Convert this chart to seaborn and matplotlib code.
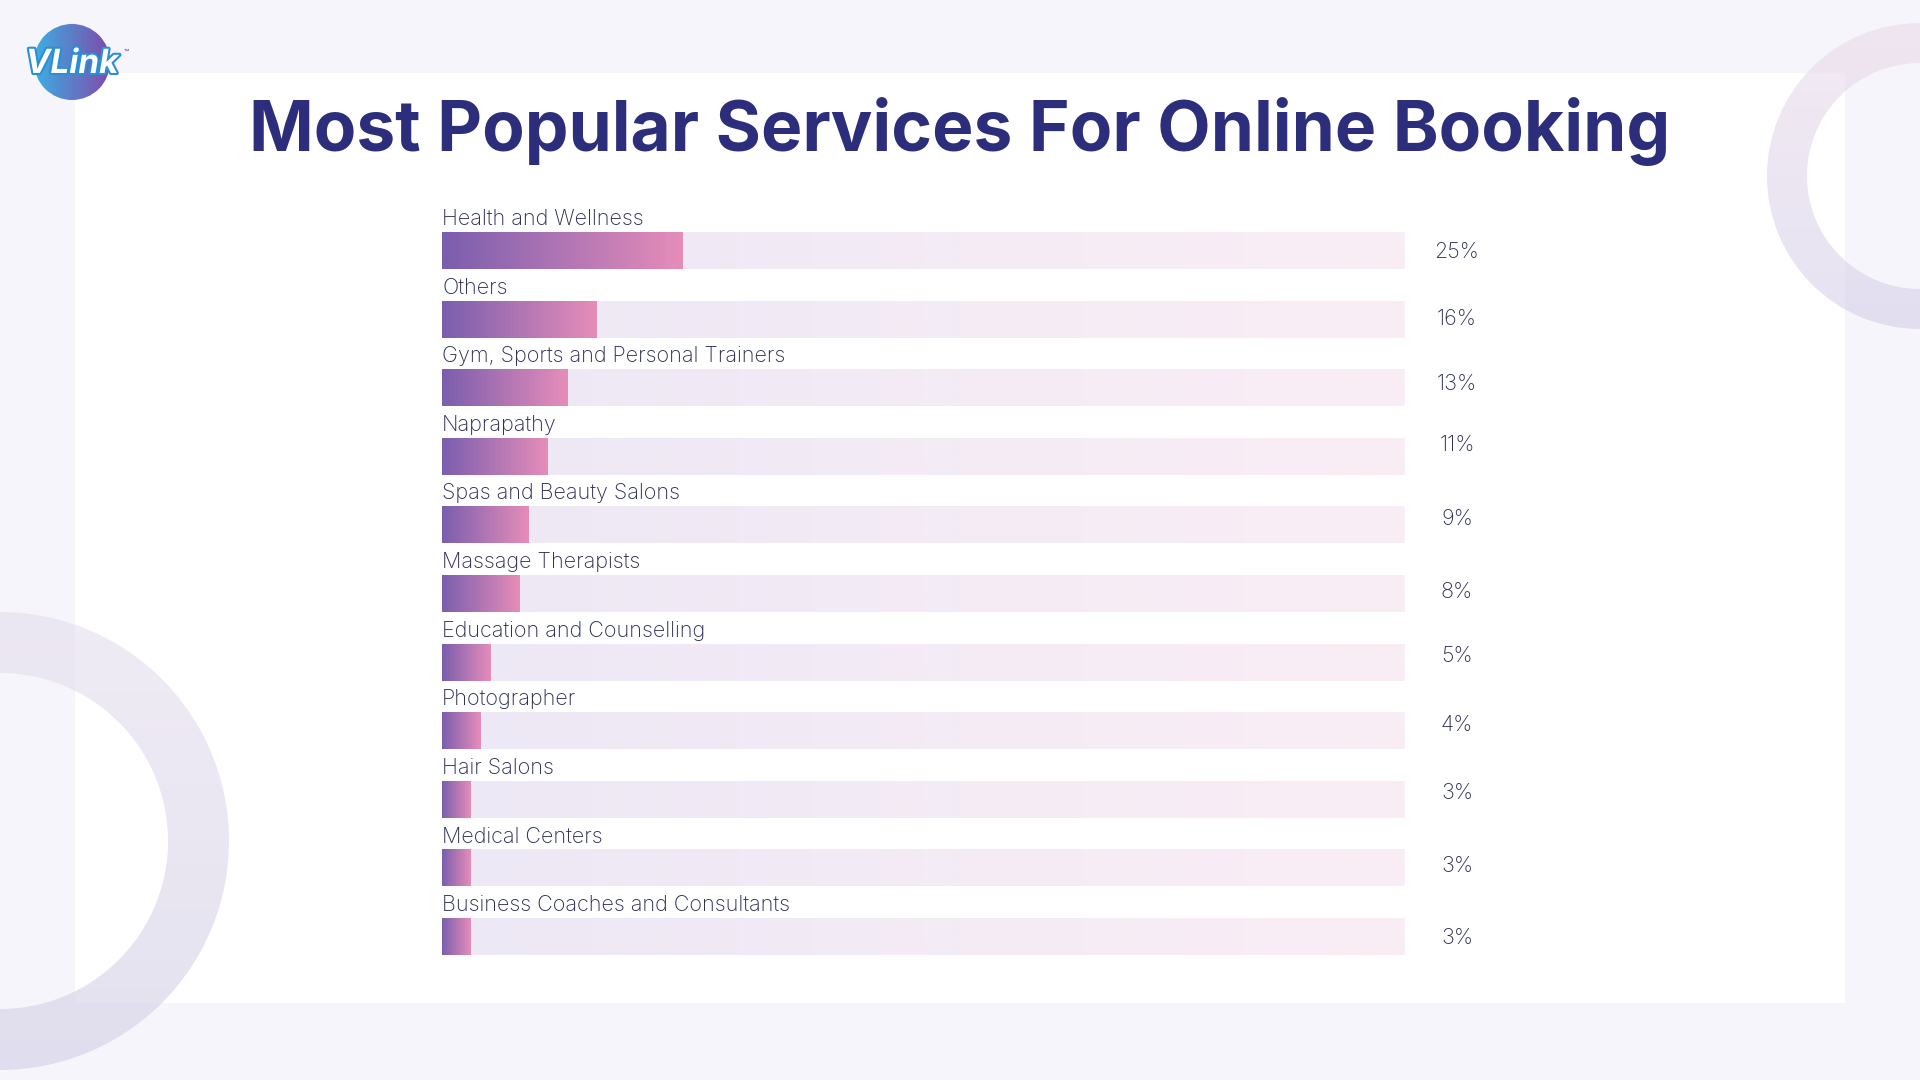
import numpy as np
import pandas as pd
import matplotlib
matplotlib.use("Agg")
import matplotlib.pyplot as plt
import seaborn as sns
from matplotlib.patches import Rectangle, Wedge, Circle
import matplotlib.patheffects as pe
from matplotlib.colors import to_rgb

# ---------------- data ----------------
categories = [
    "Health and Wellness",
    "Others",
    "Gym, Sports and Personal Trainers",
    "Naprapathy",
    "Spas and Beauty Salons",
    "Massage Therapists",
    "Education and Counselling",
    "Photographer",
    "Hair Salons",
    "Medical Centers",
    "Business Coaches and Consultants",
]
shares = [25, 16, 13, 11, 9, 8, 5, 4, 3, 3, 3]
share_labels = ["25%", "16%", "13%", "11%", "9%", "8%", "5%", "4%", "3%", "3%", "3%"]
track_max = 100
title = "Most Popular Services For Online Booking"

# ---------------- layout / style ----------------
W, H = 1920, 1080
ROW_PX = 68.6
BAR_W = 0.54
pct_dy_px = [0, -1, -5, -12, -7, -2, -7, -7, -7, -3, 0]   # label placement quirks
PCT_SHIFT_PX = 1
TITLE_COL = "#2C2E7B"
TEXT_COL = "#2C2D55"

sns.set_theme(style="white")
plt.rcParams['font.family'] = ['Inter', 'DejaVu Sans']

fig = plt.figure(figsize=(19.2, 10.8), dpi=100)
fig.patch.set_facecolor('#F6F5FB')


def gradient(ax, clip, extent, c0, c1, direction='h', alpha=1.0, zorder=1):
    t = np.linspace(0, 1, 256)
    a = np.array(to_rgb(c0)); b = np.array(to_rgb(c1))
    cols = a[None, :] * (1 - t[:, None]) + b[None, :] * t[:, None]
    img = cols[None, :, :] if direction == 'h' else cols[:, None, :]
    im = ax.imshow(img, extent=extent, aspect='auto', interpolation='bilinear',
                   alpha=alpha, zorder=zorder, origin='upper')
    im.set_clip_path(clip)
    return im

# ---------------- background ----------------
bg = fig.add_axes([0, 0, 1, 1], zorder=0)
bg.set_xlim(0, W); bg.set_ylim(H, 0); bg.axis('off')
bg.add_patch(Rectangle((75, 73), 1845 - 75, 1003 - 73, fc='white', ec='none', zorder=1))

# decorative rings
r1 = Wedge((1920, 176), 153, 0, 360, width=40, fc='none', ec='none', zorder=2)
bg.add_patch(r1)
gradient(bg, r1, (1767, 2073, 329, 23), '#EBDCEB', '#D5D0EA', 'v', alpha=0.6, zorder=2)
r2 = Wedge((0, 841), 229, 0, 360, width=61, fc='none', ec='none', zorder=2)
bg.add_patch(r2)
gradient(bg, r2, (-229, 229, 1070, 612), '#E6DFEE', '#D2CEE6', 'v', alpha=0.6, zorder=2)

# logo
globe = Circle((72, 62), 38, fc='none', ec='none', zorder=3)
bg.add_patch(globe)
gradient(bg, globe, (34, 110, 100, 24), '#1AA3E0', '#6A2A9C', 'h', alpha=0.85, zorder=3)
bg.text(72, 64, "VLink", ha='center', va='center', fontsize=24, fontweight='bold',
        style='italic', color='white', zorder=4,
        path_effects=[pe.withStroke(linewidth=3, foreground='#2A8FD4')])
bg.text(124, 52, "™", ha='left', va='center', fontsize=6, color='#6A2A9C', zorder=4)
bg.set_xlim(0, W); bg.set_ylim(H, 0)

# title
fig.text(0.5, 1 - 151 / H, title, ha='center', va='baseline', fontsize=50,
         fontweight='bold', color=TITLE_COL)

# ---------------- bars ----------------
n = len(categories)
top_px = 250.5 - ROW_PX
bot_px = 250.5 + (n - 1) * ROW_PX + ROW_PX
ax = fig.add_axes([442 / W, 1 - bot_px / H, 963 / W, (bot_px - top_px) / H], zorder=1)
ax.patch.set_alpha(0)

df = pd.DataFrame({'category': categories, 'share': shares, 'track': [track_max] * n})
sns.barplot(data=df, x='track', y='category', orient='h', width=BAR_W, ax=ax,
            color='#EEE9F5', saturation=1, zorder=1)
sns.barplot(data=df, x='share', y='category', orient='h', width=BAR_W, ax=ax,
            color='#7B5FAE', saturation=1, zorder=2)

patches = list(ax.patches)
for k, p in enumerate(patches):
    x0, y0, w, h = p.get_x(), p.get_y(), p.get_width(), p.get_height()
    p.set_facecolor('none'); p.set_edgecolor('none')
    if k < n:
        gradient(ax, p, (x0, x0 + w, y0 + h, y0), '#EDE8F5', '#FAEEF5', 'h', zorder=1)
    else:
        gradient(ax, p, (x0, x0 + w, y0 + h, y0), '#7A5EAE', '#E68DB9', 'h', zorder=2)

ax.set_xlim(0, track_max)
ax.set_ylim(n, -1)
ax.axis('off')

for i, (cat, lbl) in enumerate(zip(categories, share_labels)):
    ax.text(0, i - BAR_W / 2 - 7 / ROW_PX, cat, ha='left', va='baseline',
            fontsize=15.5, color=TEXT_COL, fontweight='light')
    ax.text((1457 - 442) / 963 * track_max, i + (pct_dy_px[i] + PCT_SHIFT_PX) / ROW_PX, lbl,
            ha='center', va='center', fontsize=15.5, color=TEXT_COL,
            fontweight='light', clip_on=False)

fig.savefig('out.png', dpi=100, facecolor=fig.get_facecolor())
